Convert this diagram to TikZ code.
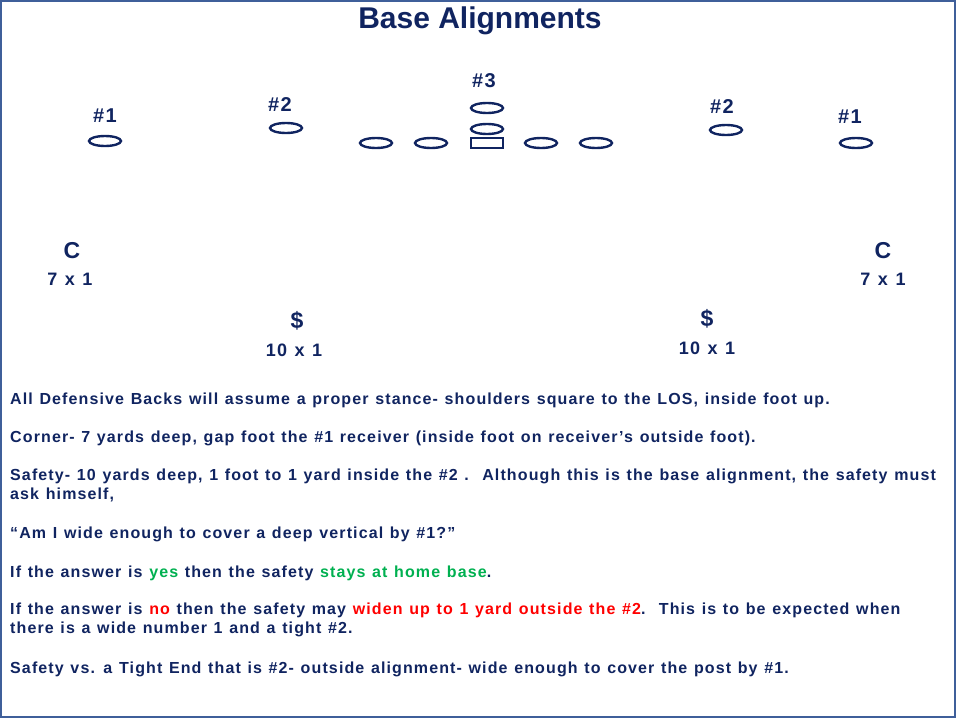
\documentclass[tikz,border=0pt]{standalone}
\usepackage{fontspec}
\setmainfont{Liberation Sans}[LetterSpace=7, WordSpace=1.2]
\newfontfamily\titlefont{Liberation Sans}
\usepackage{xcolor}
\usetikzlibrary{shapes.geometric, positioning}
\definecolor{navy}{RGB}{16,36,96}
\definecolor{frameblue}{RGB}{63,95,154}
\definecolor{okgreen}{RGB}{0,176,80}
\definecolor{nored}{RGB}{255,0,0}

\begin{document}
\begin{tikzpicture}[
		x=1pt, y=-1pt,
		player/.style={
			ellipse,
			draw=navy,
			line width=2.4pt,
			minimum width=32pt,
			minimum height=10pt,
			inner sep=0pt
		},
		snapper/.style={
			rectangle,
			draw=navy,
			line width=2.4pt,
			minimum width=32pt,
			minimum height=10pt,
			inner sep=0pt
		},
		tag/.style={
			text=navy,
			font=\bfseries\fontsize{20}{24}\selectfont,
			inner sep=0pt
		},
		defender/.style={
			text=navy,
			font=\bfseries\fontsize{23}{27}\selectfont,
			inner sep=0pt
		},
		depth/.style={
			text=navy,
			font=\bfseries\fontsize{18}{22}\selectfont,
			inner sep=0pt
		},
		rule/.style={
			anchor=base west,
			text=navy,
			font=\bfseries\fontsize{16}{19}\selectfont,
			inner sep=0pt
		}
	]
	
	\useasboundingbox (0,0) rectangle (960,720);
	\draw[frameblue, line width=2pt] (1,1) rectangle (955,717);
	
	\node[text=navy, font=\titlefont\bfseries\fontsize{30}{34}\selectfont, inner sep=0pt] (title) at (480,21) {Base Alignments};
	
	% offense
	\node[player] (x1) at (105,141) {};
	\node[player] (h2) at (286,128) {};
	\node[player] (ltackle) at (376,143) {};
	\node[player] (lguard) at (431,143) {};
	\node[snapper] (ctr) at (487,143) {};
	\node[player] (qb) at (487,129) {};
	\node[player] (rb) at (487,108) {};
	\node[player] (rguard) at (541,143) {};
	\node[player] (rtackle) at (596,143) {};
	\node[player] (y2) at (726,130) {};
	\node[player] (z1) at (856,143) {};
	
	\node[tag, above=12pt of x1] (x1tag) {\#1};
	\node[tag, above=10pt of h2, xshift=-6pt] (h2tag) {\#2};
	\node[tag, above=14pt of rb, xshift=-3pt] (rbtag) {\#3};
	\node[tag, above=10pt of y2, xshift=-4pt] (y2tag) {\#2};
	\node[tag, above=13pt of z1, xshift=-6pt] (z1tag) {\#1};
	
	% defense
	\node[defender] (cl) at (72,251) {C};
	\node[depth, below=14pt of cl, xshift=-2pt] (cldepth) {7 x 1};
	\node[defender] (cr) at (883,251) {C};
	\node[depth, below=14pt of cr] (crdepth) {7 x 1};
	\node[defender] (sl) at (297,321) {\$};
	\node[depth, below=13pt of sl, xshift=-3pt] (sldepth) {10 x 1};
	\node[defender] (sr) at (707,319) {\$};
	\node[depth, below=13pt of sr] (srdepth) {10 x 1};
	
	% coaching points
	\node[rule] (r1) at (10,404) {All Defensive Backs will assume a proper stance- shoulders square to the LOS, inside foot up.};
	\node[rule] (r2) at (10,442) {Corner- 7 yards deep, gap foot the \#1 receiver (inside foot on receiver’s outside foot).};
	\node[rule] (r3) at (10,480) {Safety- 10 yards deep, 1 foot to 1 yard inside the \#2 .\ \ Although this is the base alignment, the safety must};
	\node[rule] (r3b) at (10,499) {ask himself,};
	\node[rule] (r4) at (10,538) {“Am I wide enough to cover a deep vertical by \#1?”};
	\node[rule] (r5) at (10,577) {If the answer is \textcolor{okgreen}{yes} then the safety \textcolor{okgreen}{stays at home base}.};
	\node[rule] (r6) at (10,614) {If the answer is \textcolor{nored}{no} then the safety may \textcolor{nored}{widen up to 1 yard outside the \#2}.\ \ This is to be expected when};
	\node[rule] (r6b) at (10,633) {there is a wide number 1 and a tight \#2.};
	\node[rule] (r7) at (10,673) {Safety vs. a Tight End that is \#2- outside alignment- wide enough to cover the post by \#1.};
	
\end{tikzpicture}
\end{document}
